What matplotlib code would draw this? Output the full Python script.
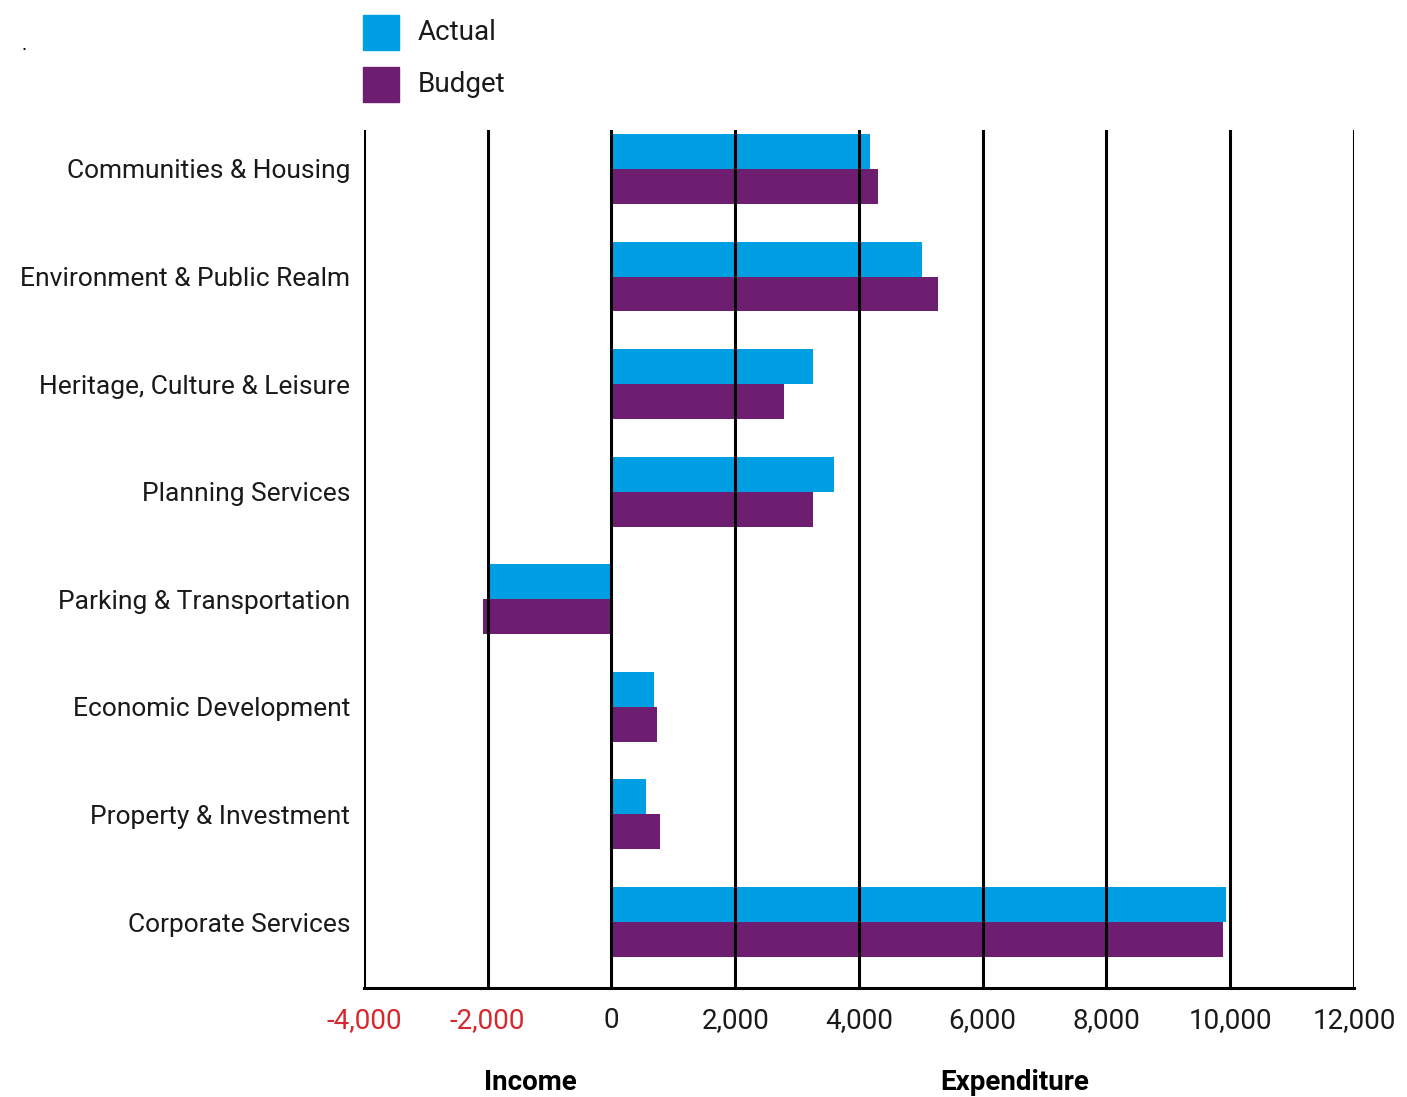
import numpy as np
import matplotlib
matplotlib.use("Agg")
import matplotlib.pyplot as plt
from matplotlib.patches import Rectangle

plt.rcParams["font.family"] = ["Roboto", "DejaVu Sans"]

categories = ["Communities & Housing", "Environment & Public Realm",
              "Heritage, Culture & Leisure", "Planning Services",
              "Parking & Transportation", "Economic Development",
              "Property & Investment", "Corporate Services"]
actual = [4180, 5020, 3260, 3590, -1970, 690, 550, 9930]
budget = [4310, 5270, 2790, 3260, -2070, 740, 780, 9880]
ticks = [-4000, -2000, 0, 2000, 4000, 6000, 8000, 10000, 12000]
tick_labels = ["-4,000", "-2,000", "0", "2,000", "4,000", "6,000", "8,000", "10,000", "12,000"]

BLUE = "#009FE3"
PURPLE = "#6D1E71"
RED = "#D7282F"
FS = 19

fig = plt.figure(figsize=(14.07, 10.97), dpi=100)
ax = fig.add_axes([0.2587, 0.0994, 0.7036, 0.7821])

y = np.arange(len(categories))
h = 0.325
ax.barh(y - h / 2, actual, height=h, color=BLUE, zorder=2)
ax.barh(y + h / 2, budget, height=h, color=PURPLE, zorder=2)

for t in ticks:
    ax.axvline(t, color="black", lw=2.2, zorder=3)

ax.set_xlim(-4000, 12000)
ax.set_ylim(7.613, -0.362)
ax.set_xticks(ticks)
ax.set_xticklabels(tick_labels, fontsize=FS + 1, color="#1a1a1a")
for lab, t in zip(ax.get_xticklabels(), ticks):
    if t < 0:
        lab.set_color(RED)
ax.set_yticks(y)
ax.set_yticklabels(categories, fontsize=FS, color="#1a1a1a")
ax.tick_params(axis="x", length=0, pad=14)
ax.tick_params(axis="y", length=0, pad=10)
for s in ["top", "right", "left"]:
    ax.spines[s].set_visible(False)
ax.spines["bottom"].set_linewidth(2.2)

fig.text(530 / 1407, 1 - 1083 / 1097, "Income", fontsize=FS + 1, fontweight="bold",
         ha="center", va="center")
fig.text(1015 / 1407, 1 - 1083 / 1097, "Expenditure", fontsize=FS + 1, fontweight="bold",
         ha="center", va="center")
fig.text(24 / 1407, 1 - 45 / 1097, ".", fontsize=14, ha="center", va="center")

# legend
for i, (lab, c) in enumerate([("Actual", BLUE), ("Budget", PURPLE)]):
    top = 15 + i * 52
    fig.patches.append(Rectangle((363 / 1407, 1 - (top + 35) / 1097), 36 / 1407, 35 / 1097,
                                 transform=fig.transFigure, color=c))
    fig.text(418 / 1407, 1 - (top + 18) / 1097, lab, fontsize=FS + 1, va="center", ha="left",
             color="#1a1a1a")

fig.savefig("out.png", dpi=100)
